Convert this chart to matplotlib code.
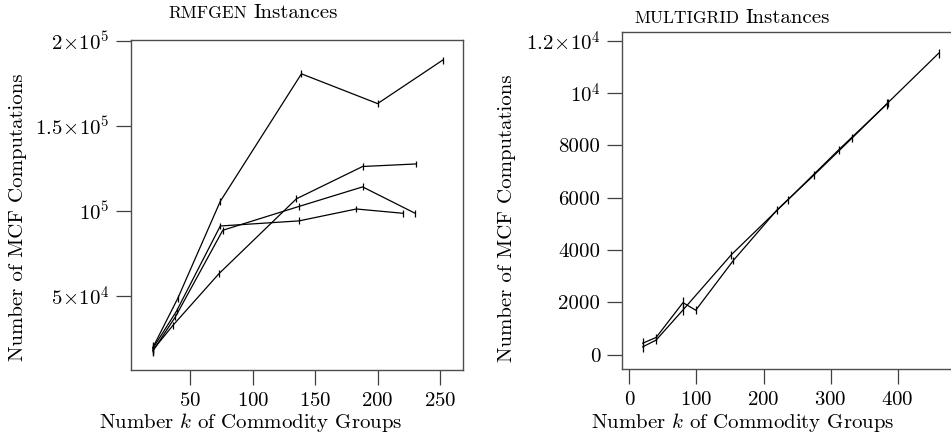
import matplotlib
matplotlib.use("Agg")
import matplotlib.pyplot as plt

plt.rcParams['font.family'] = 'cmr10'
plt.rcParams['mathtext.fontset'] = 'cm'
plt.rcParams['axes.formatter.use_mathtext'] = True

# rmfgen instances: number of commodity groups k vs. MCF computations
rm_k = [
    [20, 40, 74, 139, 200, 252],
    [20, 36, 73, 135, 188, 231],
    [20, 38, 76, 137, 188, 230],
    [20, 39, 74, 137, 183, 220],
]
rm_calls = [
    [19500, 48500, 105500, 180500, 163000, 188500],
    [18000, 32500, 63000, 107000, 126000, 127500],
    [17500, 37500, 88500, 102500, 114000, 98500],
    [19000, 41000, 91000, 94000, 101000, 98500],
]
rm_err = [
    [3000, 2000, 2000, 2000, 2000, 2000],
    [3000, 2000, 2000, 2000, 2000, 2000],
    [3000, 2000, 2000, 2000, 2000, 2000],
    [3000, 2000, 2000, 2000, 2000, 2000],
]

# multigrid instances
mg_k = [
    [20, 40, 80, 99, 155, 220, 275, 332, 385, 461],
    [20, 40, 80, 152, 236, 312, 384],
]
mg_calls = [
    [440, 660, 1990, 1700, 3600, 5530, 6860, 8280, 9620, 11520],
    [300, 560, 1710, 3820, 5910, 7830, 9580],
]
mg_err = [
    [180, 150, 200, 150, 150, 150, 150, 150, 150, 180],
    [180, 150, 200, 150, 150, 150, 180],
]

rm_yticks = [50000, 100000, 150000, 200000]
rm_ylabels = [r'$5\!\times\!10^4$', r'$10^5$', r'$1.5\!\times\!10^5$', r'$2\!\times\!10^5$']
rm_xticks = [50, 100, 150, 200, 250]
mg_yticks = [0, 2000, 4000, 6000, 8000, 10000, 12000]
mg_ylabels = ['0', '2000', '4000', '6000', '8000', r'$10^4$', r'$1.2\!\times\!10^4$']
mg_xticks = [0, 100, 200, 300, 400]

W, H = 951, 434
fig = plt.figure(figsize=(W / 100, H / 100), dpi=100)

ax1 = fig.add_axes([131 / W, 1 - 370 / H, 332 / W, 330 / H])
ax2 = fig.add_axes([622 / W, 1 - 369.3 / H, 332 / W, 337 / H])

fs = 15

for ks, vs, es in zip(rm_k, rm_calls, rm_err):
    ax1.errorbar(ks, vs, yerr=es, color='k', lw=0.9, elinewidth=0.9, capsize=0)
for ks, vs, es in zip(mg_k, mg_calls, mg_err):
    ax2.errorbar(ks, vs, yerr=es, color='k', lw=0.9, elinewidth=0.9, capsize=0)

ax1.set_xlim(2.5, 268.4)
ax1.set_ylim(6300, 200400)
ax1.set_yticks(rm_yticks, rm_ylabels)
ax1.set_xticks(rm_xticks)

ax2.set_xlim(-10.9, 483.9)
ax2.set_ylim(-558, 12322)
ax2.set_yticks(mg_yticks, mg_ylabels)
ax2.set_xticks(mg_xticks)

for ax in (ax1, ax2):
    for sp in ax.spines.values():
        sp.set_color('0.3')
        sp.set_linewidth(1.0)
    ax.tick_params(axis='both', direction='out', length=10.8, width=0.9,
                   color='0.25', labelsize=fs, pad=4.8)

# axis labels and titles (centred like the original, left of the box centre)
for x1, y_t, name in [(251, 18.3, 'RMFGEN'), (743, 22.7, 'MULTIGRID')]:
    fig.text((x1 - 4) / W, 1 - y_t / H, name, fontsize=12.5, ha='right', va='baseline')
    fig.text((x1 + 3) / W, 1 - y_t / H, 'Instances', fontsize=fs, ha='left', va='baseline')
    fig.text(x1 / W, 1 - 428 / H, r'Number $k$ of Commodity Groups', fontsize=fs,
             ha='center', va='baseline')

fig.text(18.5 / W, 1 - 217.5 / H, 'Number of MCF Computations', fontsize=fs,
         rotation=90, ha='center', va='center')
fig.text(506.5 / W, 1 - 218 / H, 'Number of MCF Computations', fontsize=fs,
         rotation=90, ha='center', va='center')

fig.savefig('out.png', dpi=100)
